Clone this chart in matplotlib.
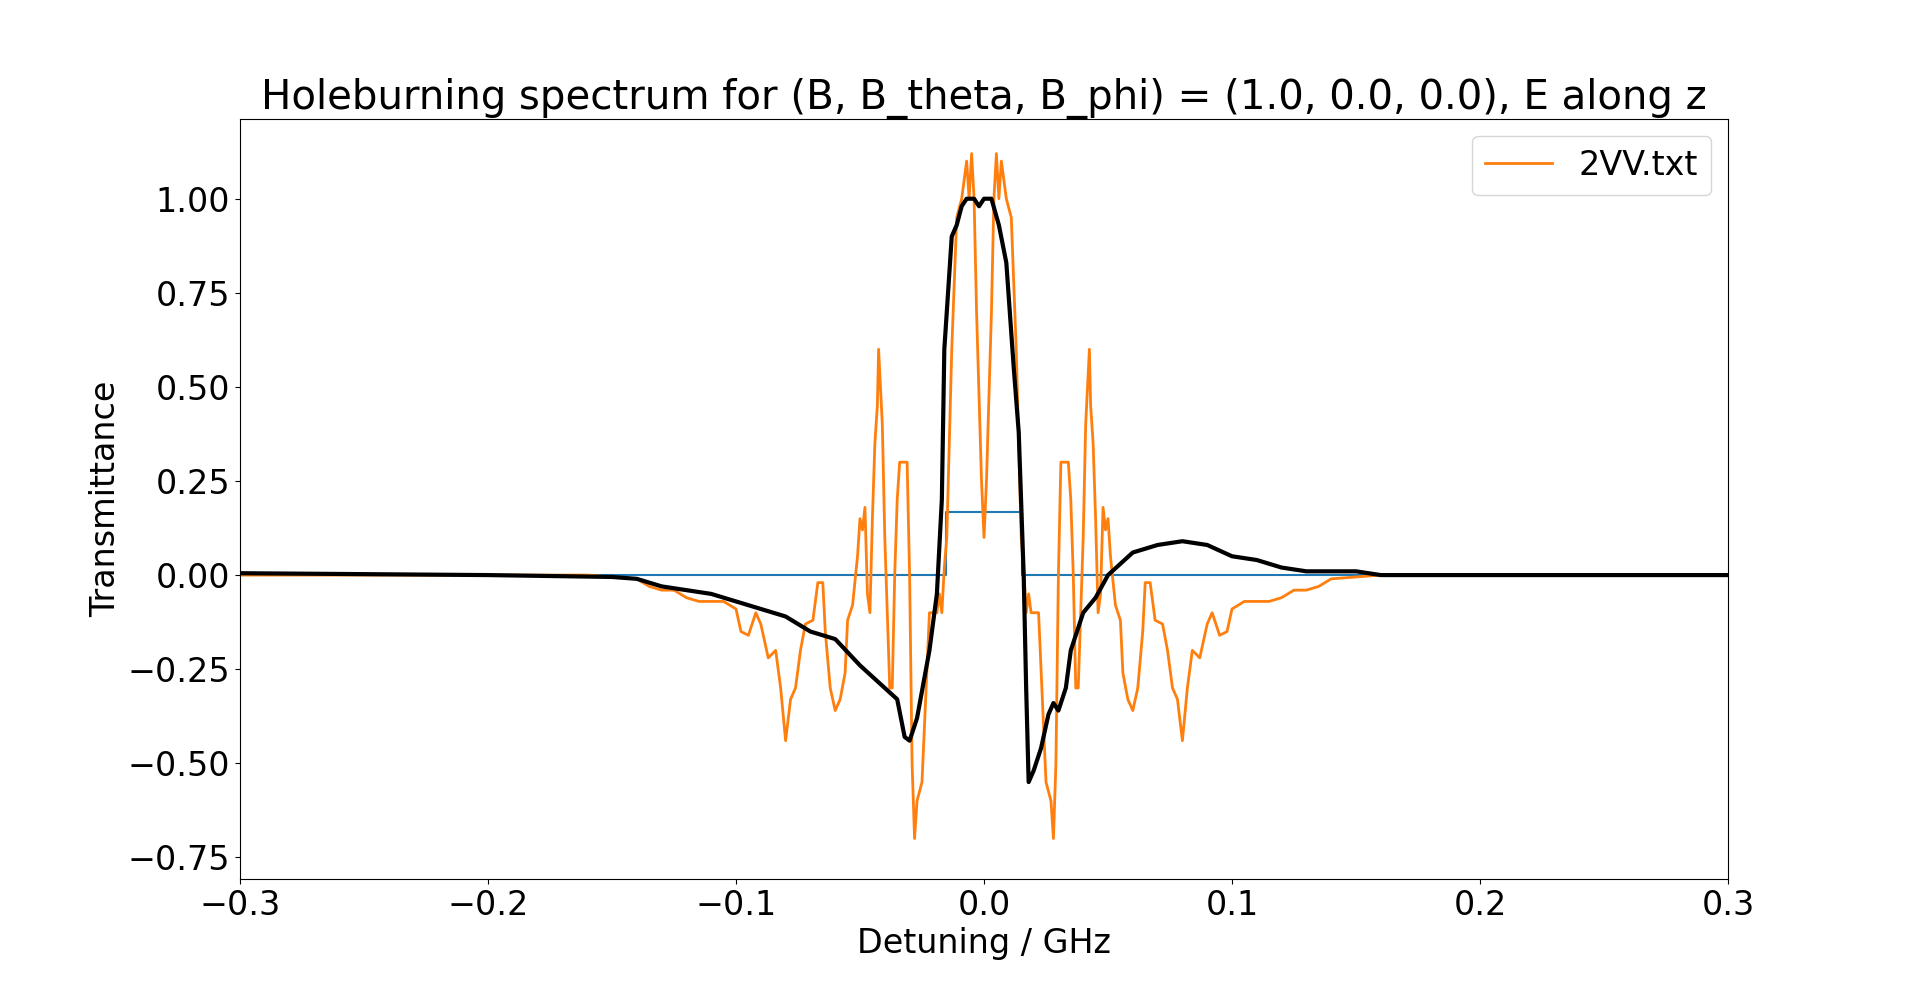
import numpy as np
import matplotlib
matplotlib.use("Agg")
import matplotlib.pyplot as plt

# Orange (2VV.txt) left half; the curve is mirror-symmetric about 0
orange_x_half = [-0.300,-0.16,-0.15,-0.14,-0.135,-0.13,-0.125,-0.12,-0.115,-0.11,-0.105,-0.1,-0.098,-0.095,-0.092,-0.09,-0.087,-0.084,-0.082,-0.08,-0.078,-0.076,-0.074,-0.072,-0.069,-0.067,-0.065,-0.064,-0.062,-0.06,-0.058,-0.056,-0.055,-0.053,-0.051,-0.05,-0.049,-0.048,-0.047,-0.046,-0.045,-0.044,-0.043,-0.0425,-0.041,-0.04,-0.039,-0.038,-0.037,-0.036,-0.035,-0.034,-0.031,-0.030,-0.029,-0.028,-0.027,-0.025,-0.024,-0.022,-0.019,-0.018,-0.017,-0.016,-0.015,-0.013,-0.011,-0.009,-0.007,-0.006,-0.005,-0.004,-0.003,-0.001,0.0]
orange_y_half = [0,0,-0.005,-0.01,-0.03,-0.04,-0.04,-0.06,-0.07,-0.07,-0.07,-0.09,-0.15,-0.16,-0.1,-0.13,-0.22,-0.2,-0.3,-0.44,-0.33,-0.3,-0.2,-0.13,-0.12,-0.02,-0.02,-0.15,-0.3,-0.36,-0.33,-0.26,-0.12,-0.08,0.05,0.15,0.12,0.18,-0.05,-0.1,0.15,0.35,0.45,0.6,0.4,0.1,-0.1,-0.3,-0.3,0.0,0.2,0.3,0.3,0.0,-0.5,-0.7,-0.6,-0.55,-0.4,-0.1,-0.1,-0.05,-0.1,0.02,0.1,0.6,0.95,1.0,1.1,1.0,1.12,1.0,0.7,0.25,0.1]

black_x = [-0.3,-0.2,-0.15,-0.14,-0.13,-0.12,-0.11,-0.1,-0.09,-0.08,-0.07,-0.06,-0.05,-0.04,-0.035,-0.032,-0.030,-0.027,-0.022,-0.019,-0.017,-0.016,-0.013,-0.011,-0.009,-0.007,-0.004,-0.002,0.0,0.003,0.006,0.009,0.012,0.014,0.016,0.017,0.018,0.02,0.023,0.026,0.028,0.03,0.033,0.035,0.04,0.045,0.05,0.055,0.06,0.07,0.08,0.09,0.1,0.11,0.12,0.13,0.15,0.16,0.3]
black_y = [0.005,0.0,-0.005,-0.01,-0.03,-0.04,-0.05,-0.07,-0.09,-0.11,-0.15,-0.17,-0.24,-0.3,-0.33,-0.43,-0.44,-0.38,-0.2,-0.05,0.2,0.6,0.9,0.93,0.98,1.0,1.0,0.98,1.0,1.0,0.93,0.83,0.55,0.38,0.0,-0.3,-0.55,-0.52,-0.46,-0.37,-0.34,-0.36,-0.3,-0.2,-0.1,-0.06,0.0,0.03,0.06,0.08,0.09,0.08,0.05,0.04,0.02,0.01,0.01,0.0,0.0]

blue_x = [-0.3,-0.0155,-0.0155,0.0155,0.0155,0.3]
blue_y = [0,0,0.167,0.167,0,0]

ox = np.concatenate([orange_x_half, -np.array(orange_x_half[::-1][1:])])
oy = np.concatenate([orange_y_half, np.array(orange_y_half[::-1][1:])])

fig = plt.figure(figsize=(19.2, 9.83), dpi=100)
ax = fig.add_axes([0.125, 0.106, 0.775, 0.773])
ax.plot(blue_x, blue_y, color='#1f77b4', lw=1.5)
ax.plot(ox, oy, color='#ff7f0e', lw=2, label='2VV.txt')
ax.plot(black_x, black_y, color='black', lw=3)
ax.set_xlim(-0.3, 0.3)
ax.set_ylim(-0.807, 1.212)
ax.set_yticks([-0.75,-0.5,-0.25,0,0.25,0.5,0.75,1.0])
ax.tick_params(labelsize=24)
ax.set_xlabel('Detuning / GHz', fontsize=24)
ax.set_ylabel('Transmittance', fontsize=24)
ax.set_title('Holeburning spectrum for (B, B_theta, B_phi) = (1.0, 0.0, 0.0), E along z', fontsize=29)
ax.legend(fontsize=24, loc='upper right')
fig.savefig('out.png', dpi=100)
